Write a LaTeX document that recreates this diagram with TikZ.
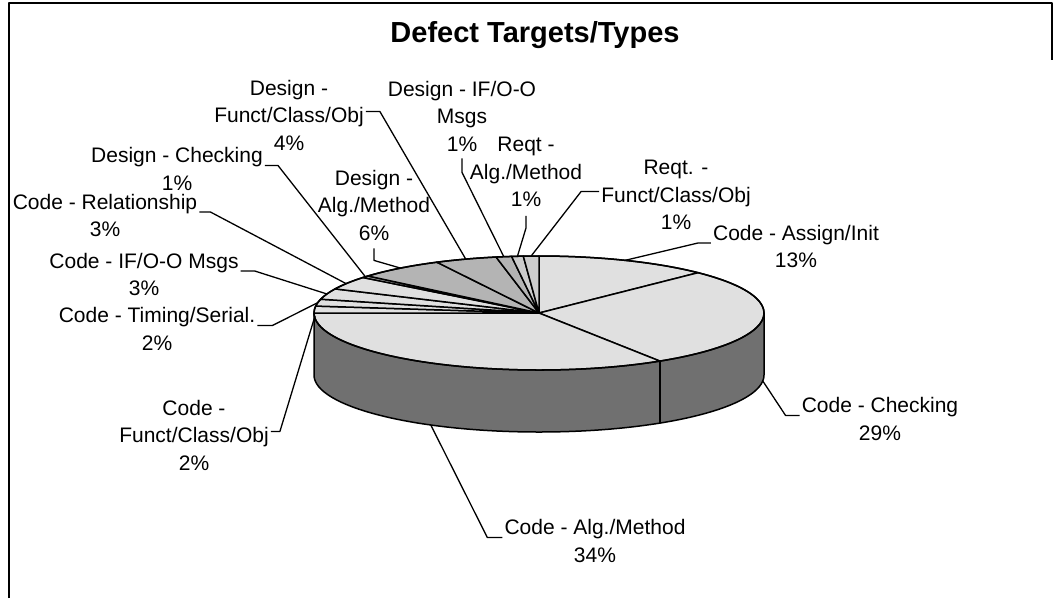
\documentclass[tikz,border=0pt]{standalone}
\usepackage{fontspec}
\setmainfont{Liberation Sans}
\usetikzlibrary{calc}
\definecolor{codetop}{HTML}{E0E0E0}
\definecolor{designtop}{HTML}{B4B4B4}
\definecolor{reqtop}{HTML}{CCCCCC}
\definecolor{sideface}{HTML}{707070}
\newcommand\pieR{225}
\newcommand\pieS{57}
\newcommand\pieD{62}
\begin{document}
\begin{tikzpicture}[x=1pt,y=1pt,line join=round,
  lbl/.style={align=center,font=\fontsize{21}{27.5}\selectfont,inner sep=2pt},
  leader/.style={draw=black,line width=1.3pt},
  rim/.style={draw=black,line width=1.5pt}]
\useasboundingbox (0,-598) rectangle (1057,0);
% chart frame
\draw[line width=2pt] (8.5,-598) -- (8.5,-2.5) -- (1052,-2.5) -- (1052,-60);

\node[font=\bfseries\fontsize{29}{34}\selectfont,anchor=base] (title) at (535,-42) {Defect Targets/Types};

\coordinate (C) at (539,-313);

% side wall of the pie
\fill[sideface] ($(C)+(-\pieR,0)$) -- ++(0,-\pieD)
  arc[start angle=180,end angle=360,x radius=\pieR,y radius=\pieS] -- ++(0,\pieD)
  arc[start angle=0,end angle=-180,x radius=\pieR,y radius=\pieS] -- cycle;
\draw[rim] ($(C)+(-\pieR,0)$) -- ++(0,-\pieD)
  arc[start angle=180,end angle=360,x radius=\pieR,y radius=\pieS] -- ++(0,\pieD);
\draw[rim] ($(C)+({\pieR*cos(-57.5)},{\pieS*sin(-57.5)})$) -- ++(0,-\pieD);

% top face slices: start angle, end angle, colour
\newcommand\pieslice[3]{%
  \filldraw[rim,fill=#3] (C) -- ($(C)+({\pieR*cos(#1)},{\pieS*sin(#1)})$)
    arc[start angle=#1,end angle=#2,x radius=\pieR,y radius=\pieS] -- cycle;}
\pieslice{90}{45}{codetop}
\pieslice{45}{-57.5}{codetop}
\pieslice{-57.5}{-180}{codetop}
\pieslice{180}{173}{codetop}
\pieslice{173}{166}{codetop}
\pieslice{166}{155}{codetop}
\pieslice{155}{141.5}{codetop}
\pieslice{141.5}{139.5}{designtop}
\pieslice{139.5}{117}{designtop}
\pieslice{117}{101}{designtop}
\pieslice{101}{97}{designtop}
\pieslice{97}{94}{reqtop}
\pieslice{94}{90}{reqtop}
\draw[rim] (C) ellipse[x radius=\pieR,y radius=\pieS];

% leader targets on the slices
\coordinate (pRF)  at ($(C)+({\pieR*cos(92)},{\pieS*sin(92)})$);
\coordinate (pRA)  at ($(C)+({\pieR*cos(95.5)},{\pieS*sin(95.5)})$);
\coordinate (pDIF) at ($(C)+({\pieR*cos(99)},{\pieS*sin(99)})$);
\coordinate (pDF)  at ($(C)+({\pieR*cos(109)},{\pieS*sin(109)})$);
\coordinate (pDA)  at ($(C)+({\pieR*cos(128)},{\pieS*sin(128)})$);
\coordinate (pDC)  at ($(C)+({\pieR*cos(140.5)},{\pieS*sin(140.5)})$);
\coordinate (pRel) at ($(C)+({\pieR*cos(149)},{\pieS*sin(149)})$);
\coordinate (pIF)  at ($(C)+({\pieR*cos(160.5)},{\pieS*sin(160.5)})$);
\coordinate (pTim) at ($(C)+({\pieR*cos(169.5)},{\pieS*sin(169.5)})$);
\coordinate (pFun) at ($(C)+(-224,-3)$);
\coordinate (pAsg) at ($(C)+({\pieR*cos(67.5)},{\pieS*sin(67.5)})$);
\coordinate (pChk) at ($(C)+({\pieR*cos(-6)},{\pieS*sin(-6)-\pieD})$);
\coordinate (pAlg) at ($(C)+({\pieR*cos(-118.75)},{\pieS*sin(-118.75)-\pieD})$);

% labels
\node[lbl] (lDF)  at (289,-115)   {Design -\\Funct/Class/Obj\\4\%};
\node[lbl] (lDIF) at (462,-116)   {Design - IF/O-O\\Msgs\\1\%};
\node[lbl] (lRA)  at (526,-172)   {Reqt -\\Alg./Method\\1\%};
\node[lbl] (lRF)  at (676,-195)   {Reqt. -\\Funct/Class/Obj\\1\%};
\node[lbl] (lAsg) at (796,-246.5) {Code - Assign/Init\\13\%};
\node[lbl] (lChk) at (880,-419)   {Code - Checking\\29\%};
\node[lbl] (lAlg) at (595,-541)   {Code - Alg./Method\\34\%};
\node[lbl] (lFun) at (194,-435)   {Code -\\Funct/Class/Obj\\2\%};
\node[lbl] (lTim) at (157,-329)   {Code - Timing/Serial.\\2\%};
\node[lbl] (lIF)  at (144,-274.5) {Code - IF/O-O Msgs\\3\%};
\node[lbl] (lRel) at (105,-215.5) {Code - Relationship\\3\%};
\node[lbl] (lDC)  at (177,-169)   {Design - Checking\\1\%};
\node[lbl] (lDA)  at (374,-205)   {Design -\\Alg./Method\\6\%};

% leader lines
\draw[leader] ([yshift=3.5pt]lDF.east)  -- ++(14,0) -- (pDF);
\draw[leader] ([yshift=3.5pt]lDC.east)  -- ++(13,0) -- (pDC);
\draw[leader] ([yshift=3.5pt]lRel.east) -- ++(11,0) -- (pRel);
\draw[leader] ([yshift=3.5pt]lIF.east)  -- ++(14,0) -- (pIF);
\draw[leader] ([yshift=3.5pt]lTim.east) -- ++(15,0) -- (pTim);
\draw[leader] ([yshift=3.5pt]lFun.east) -- ++(9,0)  -- (pFun);
\draw[leader] ([yshift=3.5pt]lRF.west)  -- ++(-18,0) -- (pRF);
\draw[leader] ([yshift=3.5pt]lAsg.west) -- ++(-13,0) -- (pAsg);
\draw[leader] ([yshift=3.5pt]lChk.west) -- ++(-14,0) -- (pChk);
\draw[leader] ([yshift=3.5pt]lAlg.west) -- ++(-15,0) -- (pAlg);
\draw[leader] ([yshift=-6pt]lDA.south)  -- ++(0,-12) -- (pDA);
\draw[leader] ([yshift=-5pt]lDIF.south) -- ++(0,-14) -- (pDIF);
\draw[leader] ([yshift=-7pt]lRA.south)  -- ++(0,-12) -- (pRA);
\end{tikzpicture}
\end{document}
